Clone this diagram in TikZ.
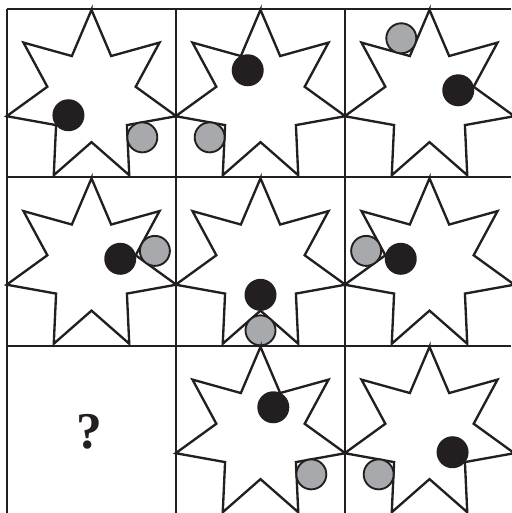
\documentclass[tikz,border=0pt]{standalone}
\usepackage{fontspec}
\usepackage{tikz}
\usetikzlibrary{calc}
\newfontfamily\qfont{Liberation Serif}
\definecolor{dotgrey}{HTML}{A7A9AC}
\definecolor{inkblack}{HTML}{231F20}
% one cell: column, row, inner corner of the black dot, inner corner of the grey dot
\newcommand{\puzzlecell}[4]{%
  \begin{scope}[shift={({91.5+169*#1},{416.15-168.5*#2})}]
    \draw[starline] (90:87) \foreach \k in {0,...,6} {-- ({115.714+51.4286*\k}:45.3) -- ({141.4286+51.4286*\k}:87)} -- cycle;
    \fill[blackdot] ({12.857+51.4286*#3}:29.5) circle (16);
    \filldraw[greydot] ({12.857+51.4286*#4}:65) circle (15);
  \end{scope}}

\begin{document}
\begin{tikzpicture}[x=0.03cm,y=0.03cm]
\tikzset{starline/.style={draw=inkblack,line width=2pt,line join=miter},
  blackdot/.style={fill=inkblack},
  greydot/.style={fill=dotgrey,draw=inkblack,line width=1.6pt},
  gridline/.style={draw=inkblack,line width=2.3pt}}
\useasboundingbox (0,0) rectangle (511,513);
\puzzlecell{0}{0}{4}{6}
\puzzlecell{1}{0}{2}{4}
\puzzlecell{2}{0}{0}{2}
\puzzlecell{0}{1}{0}{0}
\puzzlecell{1}{1}{5}{5}
\puzzlecell{2}{1}{3}{3}
\puzzlecell{1}{2}{1}{6}
\puzzlecell{2}{2}{6}{4}
\node[font=\qfont\fontsize{44}{46}\selectfont\bfseries,text=inkblack] (qmark) at (89,81.3) {?};
% grid
\foreach \gx in {7,176,345} \draw[gridline] (\gx,504) -- (\gx,0);
\foreach \gy in {504,336,167} \draw[gridline] (7,\gy) -- (511,\gy);
\end{tikzpicture}
\end{document}
